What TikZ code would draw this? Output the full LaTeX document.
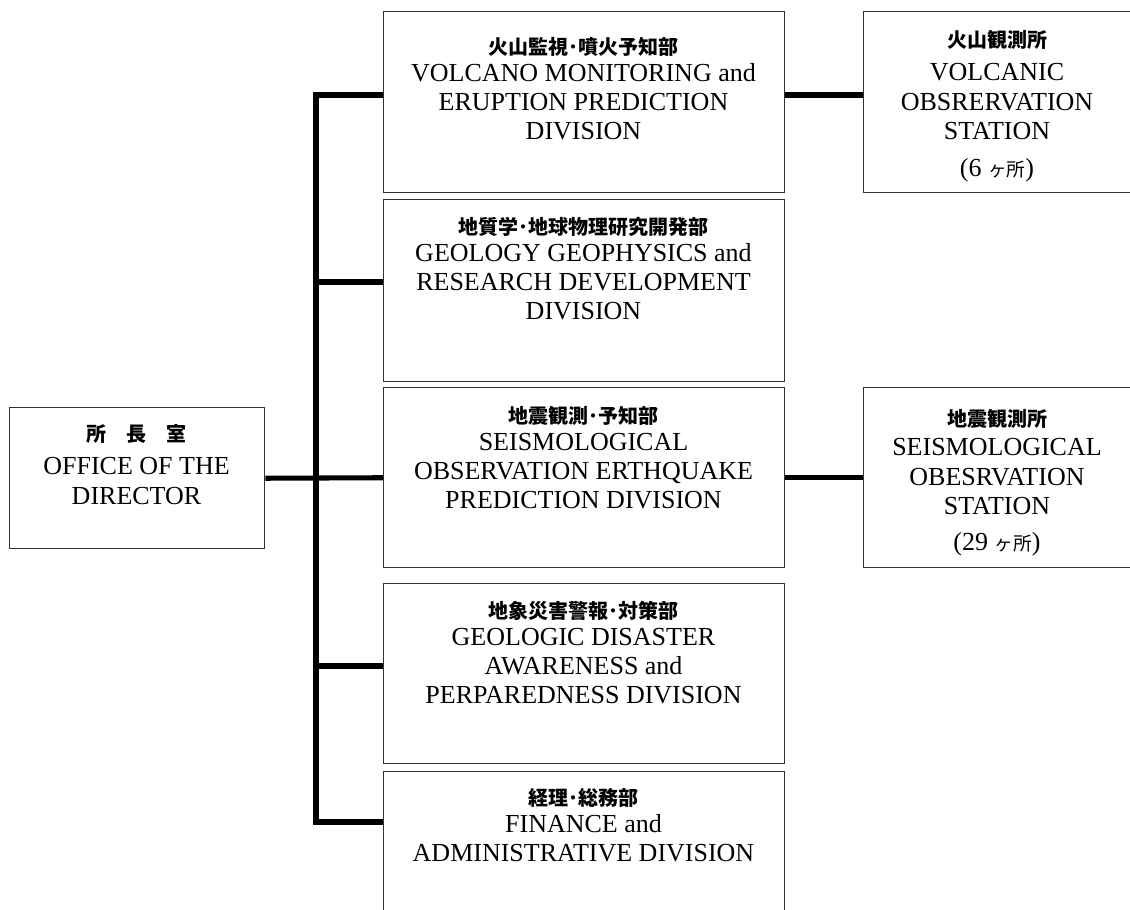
\documentclass[tikz,border=0pt]{standalone}
\usepackage{fontspec}
\setmainfont{Liberation Serif}
\newfontfamily\jpfont{Noto Sans CJK JP}
\usetikzlibrary{positioning}

\newcommand{\jphead}[1]{{\jpfont\bfseries\fontsize{15}{18}\selectfont #1}}
\newcommand{\jpcount}[1]{{\jpfont\fontsize{14}{18}\selectfont #1}}

\begin{document}
\begin{tikzpicture}[x=0.75pt,y=-0.75pt,
  box/.style={draw=black!80,line width=1.1pt,rectangle,inner sep=0pt,anchor=north west},
  lbl/.style={align=center,inner sep=0pt,anchor=north,font=\fontsize{19.5}{22}\selectfont},
  link/.style={line width=3.8pt,line join=miter}]
  \clip (0,0) rectangle (1130,909);
  \fill[white] (0,0) rectangle (1130,909);

  % boxes
  \node[box,minimum width=191.25pt,minimum height=105.75pt] (dir) at (9,407) {};
  \node[box,minimum width=300.75pt,minimum height=135.75pt] (d1) at (383,11) {};
  \node[box,minimum width=300.75pt,minimum height=136.5pt] (d2) at (383,199) {};
  \node[box,minimum width=300.75pt,minimum height=135pt] (d3) at (383,387) {};
  \node[box,minimum width=300.75pt,minimum height=135pt] (d4) at (383,583) {};
  \node[box,minimum width=300.75pt,minimum height=150pt] (d5) at (383,771) {};
  \node[box,minimum width=201pt,minimum height=135.75pt] (s1) at (863,11) {};
  \node[box,minimum width=201pt,minimum height=135pt] (s2) at (863,387) {};

  % texts
  \node[lbl] (tdir) at (136.5,424) {\jphead{所　長　室}\\[3pt]OFFICE OF THE\\DIRECTOR};
  \node[lbl] (t1) at (583.5,37) {\jphead{火山監視･噴火予知部}\\[-2pt]VOLCANO MONITORING and\\ERUPTION PREDICTION\\DIVISION};
  \node[lbl] (t2) at (583.5,217) {\jphead{地質学･地球物理研究開発部}\\[-2pt]GEOLOGY GEOPHYSICS and\\RESEARCH DEVELOPMENT\\DIVISION};
  \node[lbl] (t3) at (583.5,406) {\jphead{地震観測･予知部}\\[-2pt]SEISMOLOGICAL\\OBSERVATION ERTHQUAKE\\PREDICTION DIVISION};
  \node[lbl] (t4) at (583.5,601) {\jphead{地象災害警報･対策部}\\[-2pt]GEOLOGIC DISASTER\\AWARENESS and\\PERPAREDNESS DIVISION};
  \node[lbl] (t5) at (583.5,788) {\jphead{経理･総務部}\\[-2pt]FINANCE and\\ADMINISTRATIVE DIVISION};
  \node[lbl] (ts1) at (997,30) {\jphead{火山観測所}\\[3pt]VOLCANIC\\OBSRERVATION\\STATION\\[6pt](6 \jpcount{ヶ所})};
  \node[lbl] (ts2) at (997,409) {\jphead{地震観測所}\\[0pt]SEISMOLOGICAL\\OBESRVATION\\STATION\\[5pt](29 \jpcount{ヶ所})};

  % connectors
  \coordinate (sp1) at (316,95);
  \coordinate (sp2) at (316,282);
  \coordinate (sp4) at (316,666);
  \coordinate (sp5) at (316,822);
  \draw[link] (d1.west |- sp1) -- (sp1) -- (sp5) -- (d5.west |- sp5);
  \draw[link] (sp2) -- (d2.west |- sp2);
  \draw[link] (sp4) -- (d4.west |- sp4);
  \draw[link] (dir.east) -- (d3.west);
  \draw[link] (d1.east |- sp1) -- (s1.west |- sp1);
  \draw[link] (d3.east) -- (s2.west);
\end{tikzpicture}
\end{document}
